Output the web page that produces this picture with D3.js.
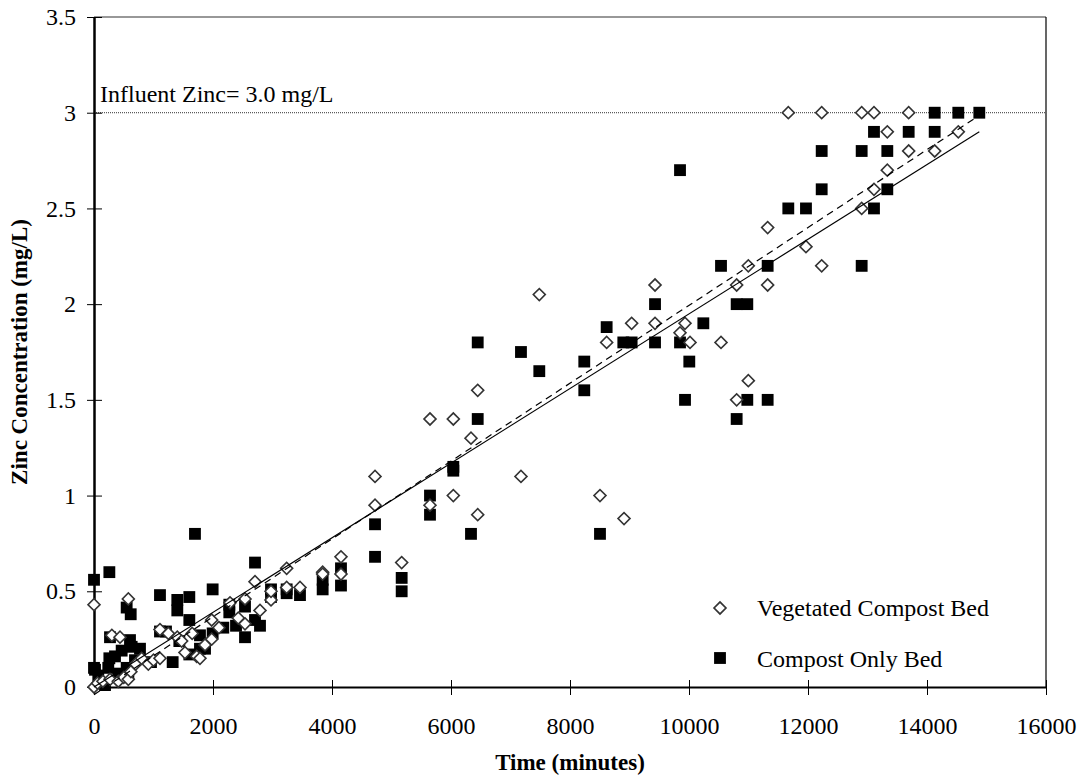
<!DOCTYPE html>
<html lang="en">
<head>
<meta charset="UTF-8">
<title>Zinc Concentration vs Time</title>
<script src="https://d3js.org/d3.v7.min.js"></script>
<style>
  body { margin: 0; background: #fff; }
  text { font-family: "Liberation Serif", "Times New Roman", serif; fill: #000; }
</style>
</head>
<body>
<svg width="1081" height="776"></svg>
<script>
// Vegetated Compost Bed (open diamonds)
const vegTime = [0, 0, 60, 150, 269, 300, 409, 437, 500, 577, 577, 620, 700, 800, 913, 1000,
  1109, 1109, 1250, 1400, 1473, 1529, 1650, 1726, 1781, 1866, 1978, 1978, 2100, 2286, 2425,
  2538, 2538, 2706, 2790, 2975, 2975, 3238, 3238, 3462, 3843, 3843, 4151, 4151, 4723, 4723,
  5171, 5647, 5647, 6039, 6039, 6336, 6449, 6449, 7176, 7484, 8504, 8616, 8908, 9036, 9429,
  9429, 9849, 9933, 10017, 10538, 10801, 10801, 10997, 10997, 11322, 11322, 11669, 11966,
  12230, 12230, 12902, 12902, 13109, 13109, 13333, 13333, 13692, 13692, 14129, 14526];
const vegZinc = [0.43, 0.0, 0.02, 0.03, 0.04, 0.27, 0.03, 0.26, 0.05, 0.46, 0.04, 0.08, 0.12, 0.15, 0.12, 0.14,
  0.30, 0.15, 0.28, 0.26, 0.24, 0.18, 0.28, 0.16, 0.15, 0.22, 0.25, 0.35, 0.31, 0.44, 0.36,
  0.46, 0.33, 0.55, 0.40, 0.455, 0.50, 0.62, 0.52, 0.52, 0.60, 0.59, 0.68, 0.59, 1.10, 0.95,
  0.65, 1.40, 0.95, 1.40, 1.00, 1.30, 1.55, 0.90, 1.10, 2.05, 1.00, 1.80, 0.88, 1.90, 2.10,
  1.90, 1.85, 1.90, 1.80, 1.80, 2.10, 1.50, 2.20, 1.60, 2.40, 2.10, 3.00, 2.30,
  3.00, 2.20, 3.00, 2.50, 3.00, 2.60, 2.90, 2.70, 3.00, 2.80, 2.80, 2.90];

// Compost Only Bed (filled squares)
const compTime = [0, 0, 17, 72, 129, 185, 240, 258, 258, 269, 353, 409, 465, 549, 549, 577, 617,
  605, 633, 689, 773, 958, 1109, 1109, 1210, 1322, 1400, 1400, 1434, 1602, 1602, 1602, 1697,
  1781, 1781, 1866, 1994, 1994, 2173, 2274, 2274, 2387, 2538, 2538, 2706, 2706, 2790, 2975,
  2975, 3238, 3238, 3462, 3843, 3843, 4151, 4151, 4723, 4723, 5171, 5171, 5647, 5647, 6039,
  6039, 6336, 6449, 6449, 7176, 7484, 8240, 8240, 8504, 8616, 8896, 9036, 9429, 9429, 9849,
  9849, 9933, 10005, 10241, 10538, 10801, 10801, 10980, 10980, 11322, 11322, 11669, 11966,
  12230, 12230, 12902, 12902, 13109, 13109, 13333, 13333, 13692, 14129, 14129, 14526, 14879];
const compZinc = [0.56, 0.10, 0.09, 0.06, 0.02, 0.01, 0.10, 0.60, 0.15, 0.26, 0.16, 0.07, 0.19, 0.415, 0.10, 0.07, 0.38,
  0.245, 0.21, 0.14, 0.20, 0.13, 0.48, 0.29, 0.29, 0.13, 0.455, 0.40, 0.24, 0.47, 0.35, 0.17, 0.80,
  0.27, 0.20, 0.20, 0.51, 0.28, 0.31, 0.43, 0.39, 0.32, 0.42, 0.26, 0.65, 0.35, 0.32, 0.51,
  0.47, 0.49, 0.51, 0.48, 0.56, 0.51, 0.62, 0.53, 0.85, 0.68, 0.57, 0.50, 1.00, 0.90, 1.13,
  1.15, 0.80, 1.80, 1.40, 1.75, 1.65, 1.70, 1.55, 0.80, 1.88, 1.80, 1.80, 2.00, 1.80, 2.70,
  1.80, 1.50, 1.70, 1.90, 2.20, 2.00, 1.40, 2.00, 1.50, 2.20, 1.50, 2.50, 2.50,
  2.80, 2.60, 2.80, 2.20, 2.90, 2.50, 2.80, 2.60, 2.90, 3.00, 2.90, 3.00, 3.00];

// trend lines (start / end values)
const trendSolid = [[0, 0.0], [14879, 2.90]];
const trendDashed = [[0, -0.04], [14900, 2.99]];
const influent = 3.0;

const xTicks = [0, 2000, 4000, 6000, 8000, 10000, 12000, 14000, 16000];
const yTicks = [0, 0.5, 1, 1.5, 2, 2.5, 3, 3.5];

const svg = d3.select("svg");
const pLeft = 94, pRight = 1046, pTop = 17, pBottom = 687;

const x = d3.scaleLinear().domain([0, 16000]).range([pLeft, pRight]);
const y = d3.scaleLinear().domain([0, 3.5]).range([pBottom, pTop]);

// frame
svg.append("line").attr("x1", pLeft).attr("x2", pRight).attr("y1", pTop).attr("y2", pTop)
   .attr("stroke", "#333").attr("stroke-width", 1.2);
svg.append("line").attr("x1", pRight).attr("x2", pRight).attr("y1", pTop).attr("y2", pBottom)
   .attr("stroke", "#000").attr("stroke-width", 1.2);

// influent line
svg.append("line")
   .attr("x1", x(0)).attr("x2", pRight)
   .attr("y1", y(influent)).attr("y2", y(influent))
   .attr("stroke", "#333").attr("stroke-width", 1).attr("stroke-dasharray", "1,1");
svg.append("text").attr("x", 100).attr("y", 102)
   .style("font-size", "24px").text("Influent Zinc= 3.0 mg/L");

// axes
const xAxis = svg.append("g").attr("transform", `translate(0,${pBottom})`)
   .call(d3.axisBottom(x).tickValues(xTicks).tickSize(0).tickPadding(30).tickFormat(d3.format("d")));
xAxis.select(".domain").attr("stroke", "#000").attr("stroke-width", 2);
xAxis.selectAll(".tick line").remove();
xAxis.selectAll(".tick").append("line").attr("y1", -7).attr("y2", 8).attr("stroke", "#000");
xAxis.selectAll("text").style("font-size", "24px").style("font-family", "Liberation Serif");

const yAxis = svg.append("g").attr("transform", `translate(${pLeft},0)`)
   .call(d3.axisLeft(y).tickValues(yTicks).tickSize(0).tickPadding(18).tickFormat(d3.format("")));
yAxis.select(".domain").attr("stroke", "#000").attr("stroke-width", 2.5);
yAxis.selectAll(".tick").append("line").attr("x1", -7).attr("x2", 8).attr("stroke", "#000");
yAxis.selectAll("text").style("font-size", "24px").style("font-family", "Liberation Serif");

// axis titles
svg.append("text").attr("x", (pLeft + pRight) / 2).attr("y", 770)
   .attr("text-anchor", "middle").style("font-size", "23px").style("font-weight", "bold")
   .text("Time (minutes)");
svg.append("text").attr("transform", `translate(27,${(pTop + pBottom) / 2}) rotate(-90)`)
   .attr("text-anchor", "middle").style("font-size", "23px").style("font-weight", "bold")
   .text("Zinc Concentration (mg/L)");

const square = d3.symbol().type(d3.symbolSquare).size(140);
const diamond = d3.symbol().type(d3.symbolSquare).size(72);

// compost only points
svg.append("g").selectAll("path")
   .data(d3.zip(compTime, compZinc))
   .join("path")
   .attr("d", square)
   .attr("transform", d => `translate(${x(d[0])},${y(d[1])})`)
   .attr("fill", "#000");

// vegetated points
svg.append("g").selectAll("path")
   .data(d3.zip(vegTime, vegZinc))
   .join("path")
   .attr("d", diamond)
   .attr("transform", d => `translate(${x(d[0])},${y(d[1])}) rotate(45)`)
   .attr("fill", "#fff").attr("stroke", "#333").attr("stroke-width", 1.6);

// trend lines
const line = d3.line().x(d => x(d[0])).y(d => y(d[1]));
svg.append("path").datum(trendSolid).attr("d", line)
   .attr("fill", "none").attr("stroke", "#000").attr("stroke-width", 1.2);
svg.append("path").datum(trendDashed).attr("d", line)
   .attr("fill", "none").attr("stroke", "#000").attr("stroke-width", 1.2).attr("stroke-dasharray", "7,5");

// legend
const legend = svg.append("g");
legend.append("path").attr("d", diamond)
   .attr("transform", "translate(720,608) rotate(45)")
   .attr("fill", "#fff").attr("stroke", "#333").attr("stroke-width", 1.6);
legend.append("text").attr("x", 757).attr("y", 616).style("font-size", "24px")
   .text("Vegetated Compost Bed");
legend.append("path").attr("d", square)
   .attr("transform", "translate(720,658)").attr("fill", "#000");
legend.append("text").attr("x", 757).attr("y", 667).style("font-size", "24px")
   .text("Compost Only Bed");
</script>
</body>
</html>
